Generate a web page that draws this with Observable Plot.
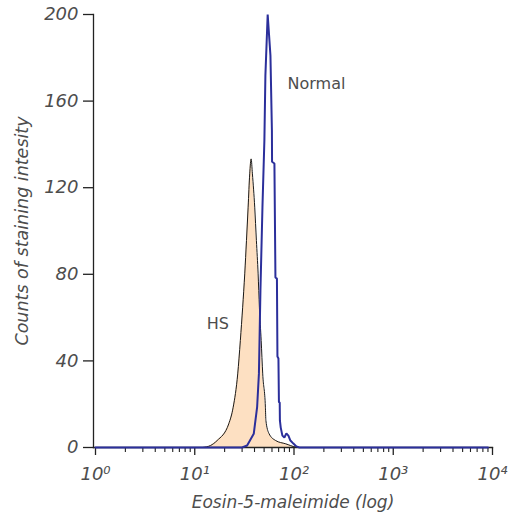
<!DOCTYPE html>
<html>
<head>
<meta charset="utf-8">
<script src="https://cdn.jsdelivr.net/npm/d3@7"></script>
<script src="https://cdn.jsdelivr.net/npm/@observablehq/plot@0.6"></script>
<style>
  html, body { margin: 0; padding: 0; background: #fff; }
  #chart svg { display: block; }
</style>
</head>
<body>
<div id="chart"></div>
<script>
// Flow cytometry histograms: eosin-5-maleimide binding, HS vs normal red cells
const hsX = [12, 14.4, 16.8, 22.0, 24.4, 27.1, 28.8, 30.4, 31.9, 33.2, 34.5, 35.8, 37.0,
             38.1, 40.2, 41.8, 43.5, 44.8, 46.7, 48.4, 51.5, 52.1, 55.9, 65.4, 82.5, 104, 115];
const hsCount = [0, 0.9, 3.2, 10.9, 18.6, 34, 49.4, 64.8, 80.2, 95.6, 111, 126.4, 133.3,
                 126.4, 111, 95.6, 80.2, 64.8, 49.4, 34, 18.6, 12.5, 6.5, 3.2, 1.7, 0.2, 0];

const normalX = [1, 30, 33.7, 39.3, 42.5, 44.3, 45.9, 48.1, 50.3, 51.5, 54.3,
                 57.9, 59.9, 60.1, 63.5, 65.0, 67.3, 68.1, 69.7, 70.5, 71.8, 72.1, 73.5,
                 76.4, 80, 83.8, 87.8, 92, 98.6, 105.7, 113.3, 9000];
const normalCount = [0, 0, 0.9, 6.3, 18.6, 34, 72.5, 111, 141.8, 171.8, 200,
                     181, 146.4, 132, 131.2, 78.5, 78, 42, 41.1, 20.9, 20.8, 12.5, 9.2,
                     5.5, 4.6, 6.5, 5.5, 3.2, 1.8, 0.5, 0, 0];

const xTicks = [1, 10, 100, 1000, 10000];
const xTickLabels = ["10⁰", "10¹", "10²", "10³", "10⁴"];
const yTicks = [0, 40, 80, 120, 160, 200];

const seriesLabels = ["Normal", "HS"];
const labelX = [86, 17.1];
const labelY = [168, 57.3];

const xTitle = "Eosin-5-maleimide (log)";
const yTitle = "Counts of staining intesity";

const hs = hsX.map((x, i) => ({x, y: hsCount[i]}));
const normal = normalX.map((x, i) => ({x, y: normalCount[i]}));

// minor log ticks 2..9 within each decade
const minorTicks = d3.range(0, 4).flatMap(d => d3.range(2, 10).map(k => k * 10 ** d));
const tickLabel = new Map(xTicks.map((t, i) => [t, xTickLabels[i]]));

const ink = "#222";
const textColor = "#4d4d4d";
const font = "DejaVu Sans";

const chart = Plot.plot({
  width: 514,
  height: 516,
  marginLeft: 93,
  marginRight: 22,
  marginTop: 14,
  marginBottom: 69,
  x: {type: "log", domain: [1, 1e4], range: [95, 492]},
  y: {domain: [0, 200], range: [447, 14]},
  style: {fontFamily: font, background: "#fff", color: textColor},
  marks: [
    Plot.areaY(hs, {x: "x", y: "y", fill: "#fde0c2", curve: "monotone-x"}),
    Plot.lineY(hs, {x: "x", y: "y", stroke: "#1a1a1a", strokeWidth: 1, curve: "monotone-x"}),
    Plot.frame({anchor: "left", stroke: ink, strokeWidth: 1.3}),
    Plot.frame({anchor: "bottom", stroke: ink, strokeWidth: 1.3}),
    Plot.axisY({ticks: yTicks, tickSize: 10, tickPadding: 5, fontSize: 18, fontStyle: "italic",
                stroke: ink, strokeWidth: 1.3, fill: textColor, label: null}),
    Plot.axisX({ticks: xTicks, tickSize: 8, tickPadding: 12, fontSize: 18, fontStyle: "italic",
                tickFormat: d => tickLabel.get(d), stroke: ink, strokeWidth: 1.3, fill: textColor, label: null}),
    Plot.axisX({ticks: minorTicks, tickSize: 5, tickFormat: () => "", stroke: ink, strokeWidth: 1.1, label: null}),
    Plot.lineY(normal, {x: "x", y: "y", stroke: "#2b2f9b", strokeWidth: 2, strokeLinejoin: "miter"}),
    Plot.text([seriesLabels[0]], {x: [labelX[0]], y: [labelY[0]], textAnchor: "start", fontSize: 16, fill: textColor}),
    Plot.text([seriesLabels[1]], {x: [labelX[1]], y: [labelY[1]], textAnchor: "middle", fontSize: 16, fill: textColor}),
    Plot.text([xTitle], {frameAnchor: "bottom", textAnchor: "middle", lineAnchor: "middle", dy: 55, fontSize: 17,
                         fontStyle: "italic", fill: textColor}),
    Plot.text([yTitle], {frameAnchor: "left", textAnchor: "middle", lineAnchor: "middle", rotate: -90, dx: -71,
                         fontSize: 17.5, fontStyle: "italic", fill: textColor})
  ]
});

document.getElementById("chart").append(chart);
</script>
</body>
</html>
